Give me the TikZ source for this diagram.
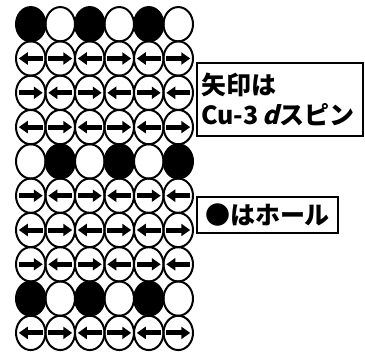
\documentclass[tikz,border=0pt]{standalone}
\usepackage{fontspec}
\usepackage{tikz}
\usetikzlibrary{shapes.geometric}
\usetikzlibrary{arrows.meta}
\usetikzlibrary{positioning}
\newfontfamily\jpfont{Noto Sans CJK JP}
\newfontfamily\jpslant{Noto Sans CJK JP}[FakeSlant=0.25]

\tikzset{
  site/.style={ellipse, draw, line width=2pt, minimum width=29.5pt,
    minimum height=34.3pt, inner sep=0pt},
  spin/.style={line width=5pt, -{Triangle[length=9pt,width=12pt]}},
  cell-h/.style={fill=black},
  cell-o/.style={},
  cell-l/.style={path picture={\draw[spin]
    ([xshift=12pt]path picture bounding box.center) --
    ([xshift=-12pt]path picture bounding box.center);}},
  cell-r/.style={path picture={\draw[spin]
    ([xshift=-12pt]path picture bounding box.center) --
    ([xshift=12pt]path picture bounding box.center);}},
  notebox/.style={draw, line width=2pt, inner sep=4pt,
    font=\jpfont\bfseries\fontsize{25}{30}\selectfont}
}

\begin{document}
\begin{tikzpicture}[x=1pt, y=-1pt]
    \useasboundingbox (0,0) rectangle (365,354);
    \foreach \r/\row in {1/{h,o,h,o,h,o}, 2/{l,r,l,r,l,r}, 3/{r,l,r,l,r,l},
      4/{l,r,l,r,l,r}, 5/{o,h,o,h,o,h}, 6/{r,l,r,l,r,l}, 7/{l,r,l,r,l,r},
      8/{r,l,r,l,r,l}, 9/{h,o,h,o,h,o}, 10/{l,r,l,r,l,r}}
      \foreach \k [count=\c] in \row
        \node[site, cell-\k] (s-\r-\c) at ({30.75+29.5*(\c-1)}, {24.2+34.3*(\r-1)}) {};
    \node (spin note) [notebox, anchor=north west, align=left, text width=158pt,
    minimum height=73pt] at (196,62) {矢印は\\Cu-3\,{\jpslant d}スピン};
    \node (hole note) [notebox, anchor=west, minimum width=141pt,
    minimum height=36pt] at (196,215) {●はホール};
  \end{tikzpicture}
\end{document}
